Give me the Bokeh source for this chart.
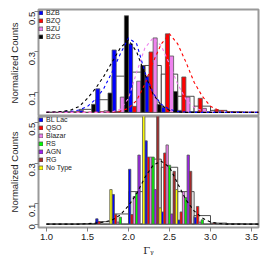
import math
from bokeh.plotting import figure
from bokeh.models import Range1d, FixedTicker, Legend, LegendItem, NumeralTickFormatter
from bokeh.layouts import column
from bokeh.embed import file_html
from bokeh.resources import INLINE

# ---------------- data ----------------
group_starts = [1.0, 1.2, 1.4, 1.6, 1.8, 2.0, 2.2, 2.4, 2.6, 2.8, 3.0, 3.2, 3.4]

# top panel (normalized counts per 0.2 bin)
top_names = ["BZB", "BZQ", "BZU", "BZG"]
bzb = [0, 0, 0.010, 0.117, 0.310, 0.340, 0.180, 0.026, 0.010, 0.003, 0, 0, 0]
bzq = [0, 0, 0, 0.004, 0.005, 0.030, 0.300, 0.390, 0.176, 0.070, 0.013, 0.003, 0]
bzu = [0, 0, 0, 0.008, 0.076, 0.155, 0.370, 0.280, 0.076, 0.020, 0.005, 0, 0]
bzg = [0, 0, 0.040, 0.096, 0.480, 0.233, 0.040, 0.104, 0.003, 0.003, 0, 0, 0]
top_total = [0, 0.003, 0.015, 0.063, 0.180, 0.200, 0.233, 0.190, 0.080, 0.031, 0.010, 0.003, 0]

# bottom panel
bot_names = ["BL Lac", "QSO", "Blazar", "RS", "AGN", "RG", "No Type"]
bllac = [0, 0, 0, 0.026, 0.146, 0.270, 0.410, 0.060, 0.020, 0.034, 0, 0, 0]
qso = [0, 0, 0, 0.013, 0.047, 0.047, 0.330, 0.350, 0.060, 0.087, 0.005, 0, 0]
blazar = [0, 0, 0, 0, 0.010, 0.136, 0.330, 0.390, 0.160, 0.010, 0, 0, 0]
rs = [0, 0, 0, 0, 0.034, 0.155, 0.330, 0.290, 0.130, 0.021, 0, 0, 0]
agn = [0, 0, 0, 0, 0, 0.340, 0.170, 0.050, 0.340, 0, 0, 0, 0]
rg = [0, 0, 0, 0, 0, 0, 0.550, 0.260, 0.260, 0, 0, 0, 0]
notype = [0, 0, 0, 0.170, 0, 0.550, 0.080, 0.170, 0, 0, 0, 0, 0]
bot_total = [0, 0, 0.002, 0.012, 0.050, 0.160, 0.320, 0.280, 0.160, 0.042, 0.005, 0.002, 0]

# dashed curves
curve_x = [1.0, 1.1, 1.2, 1.3, 1.4, 1.5, 1.6, 1.7, 1.8, 1.9, 2.0, 2.1, 2.2, 2.3,
           2.4, 2.5, 2.6, 2.7, 2.8, 2.9, 3.0, 3.1, 3.2, 3.3, 3.4, 3.5, 3.6]
curve_bzb = [0, 0, 0.002, 0.005, 0.012, 0.030, 0.065, 0.120, 0.200, 0.290, 0.370, 0.340, 0.200, 0.095,
             0.040, 0.015, 0.005, 0.002, 0, 0, 0, 0, 0, 0, 0, 0, 0]
curve_bzq = [0, 0, 0, 0, 0, 0, 0, 0, 0.002, 0.006, 0.020, 0.060, 0.140, 0.250,
             0.340, 0.390, 0.340, 0.250, 0.150, 0.080, 0.030, 0.010, 0.003, 0, 0, 0, 0]
curve_bzu = [0, 0, 0, 0, 0, 0, 0, 0, 0.003, 0.015, 0.070, 0.200, 0.320, 0.370,
             0.330, 0.240, 0.140, 0.065, 0.025, 0.008, 0.002, 0, 0, 0, 0, 0, 0]
curve_bzg = [0, 0.002, 0.005, 0.012, 0.030, 0.070, 0.120, 0.180, 0.250, 0.320, 0.360, 0.300, 0.190, 0.090,
             0.035, 0.010, 0.003, 0, 0, 0, 0, 0, 0, 0, 0, 0, 0]
curve_all = [0, 0, 0, 0, 0, 0.002, 0.005, 0.010, 0.020, 0.045, 0.090, 0.150, 0.230, 0.290,
             0.310, 0.280, 0.200, 0.120, 0.065, 0.030, 0.010, 0.003, 0, 0, 0, 0, 0]

top_colors = ["#0000FF", "#FF0000", "#EE82EE", "#000000"]
bot_colors = ["#0000FF", "#FF0000", "#EE82EE", "#00FF00", "#A020F0", "#A52A2A", "#FFFF00"]

GROUP_W = 0.2
FONT = "Liberation Sans"
X0 = 1.0 - 8.0 / 82.0
X1 = X0 + 220.0 / 82.0


def base_fig(h, ymin, ymax, mb_top, mb_bottom):
    p = figure(width=260, height=h, x_range=Range1d(X0, X1), y_range=Range1d(ymin, ymax),
               output_backend="svg", toolbar_location=None,
               min_border_left=38, min_border_right=2, min_border_top=mb_top,
               min_border_bottom=mb_bottom)
    p.grid.visible = False
    p.outline_line_color = "#9a9a9a"
    p.outline_line_width = 2
    p.background_fill_color = "white"
    p.border_fill_color = "white"
    ya = p.yaxis[0]
    ya.axis_line_color = None
    ya.major_tick_line_color = "#7f7f7f"
    ya.major_tick_out = 4
    ya.major_tick_in = 0
    ya.minor_tick_line_color = None
    ya.major_label_orientation = math.pi / 2
    ya.major_label_text_font = FONT
    ya.major_label_text_font_size = "9.5px"
    ya.major_label_text_color = "#222222"
    ya.major_label_standoff = 2
    ya.axis_label = "Normalized Counts"
    ya.axis_label_text_font = FONT
    ya.axis_label_text_font_style = "normal"
    ya.axis_label_text_font_size = "9.5px"
    ya.axis_label_text_color = "#222222"
    ya.axis_label_standoff = 4
    return p


def draw_bars(p, series, colors, names, total):
    n = len(series)
    w = GROUP_W / n
    rights = [g + GROUP_W for g in group_starts]
    p.quad(left=group_starts, right=rights, bottom=0, top=total,
           fill_color="white", line_color="#222222", line_width=0.8)
    rends = []
    for k, (vals, col) in enumerate(zip(series, colors)):
        lefts = [g + k * w for g in group_starts]
        rr = [l + w for l in lefts]
        r = p.quad(left=lefts, right=rr, bottom=0, top=vals,
                   fill_color=col, line_color="#555555", line_width=0.8)
        rends.append(r)
    return rends


def add_legend(p, rends, names):
    items = [LegendItem(label=nm, renderers=[r]) for nm, r in zip(names, rends)]
    leg = Legend(items=items, location="top_left")
    leg.label_text_font = FONT
    leg.label_text_font_size = "7px"
    leg.label_text_color = "#222222"
    leg.label_height = 6
    leg.label_standoff = 3
    leg.glyph_height = 5
    leg.glyph_width = 5
    leg.spacing = 1
    leg.padding = 6
    leg.margin = 0
    leg.border_line_color = None
    leg.background_fill_alpha = 0
    p.add_layout(leg)


# ---------------- top panel ----------------
p1 = base_fig(116, -0.0204, 0.511, 9, 0)
p1.xaxis.visible = False
p1.yaxis[0].ticker = FixedTicker(ticks=[0.1, 0.3, 0.5])
r_top = draw_bars(p1, [bzb, bzq, bzu, bzg], top_colors, top_names, top_total)
for cv, col in zip([curve_bzb, curve_bzq, curve_bzu, curve_bzg], top_colors):
    p1.line(curve_x, cv, line_color=col, line_dash="3 3", line_width=1.1)
add_legend(p1, r_top, top_names)

# ---------------- bottom panel ----------------
p2 = base_fig(142, -0.0167, 0.530, 0, 31)
p2.yaxis[0].ticker = FixedTicker(ticks=[0, 0.1, 0.3, 0.5])
p2.yaxis[0].major_label_overrides = {0: "0"}
xa = p2.xaxis[0]
xa.ticker = FixedTicker(ticks=[1.0, 1.5, 2.0, 2.5, 3.0, 3.5])
xa.formatter = NumeralTickFormatter(format="0.0")
xa.axis_line_color = None
xa.major_tick_line_color = "#7f7f7f"
xa.major_tick_out = 4
xa.major_tick_in = 0
xa.minor_tick_line_color = None
xa.major_label_text_font = FONT
xa.major_label_text_font_size = "9.5px"
xa.major_label_text_color = "#222222"
xa.major_label_standoff = 2
xa.axis_label = "Γᵧ"
xa.axis_label_text_font = "DejaVu Serif"
xa.axis_label_text_font_style = "normal"
xa.axis_label_text_font_size = "10px"
xa.axis_label_text_color = "#222222"
xa.axis_label_standoff = 2
r_bot = draw_bars(p2, [bllac, qso, blazar, rs, agn, rg, notype], bot_colors, bot_names, bot_total)
p2.line(curve_x, curve_all, line_color="black", line_dash="3 3", line_width=1.1)
add_legend(p2, r_bot, bot_names)

layout = column(p1, p2, spacing=0)
open("out.html", "w").write(file_html(layout, INLINE))
